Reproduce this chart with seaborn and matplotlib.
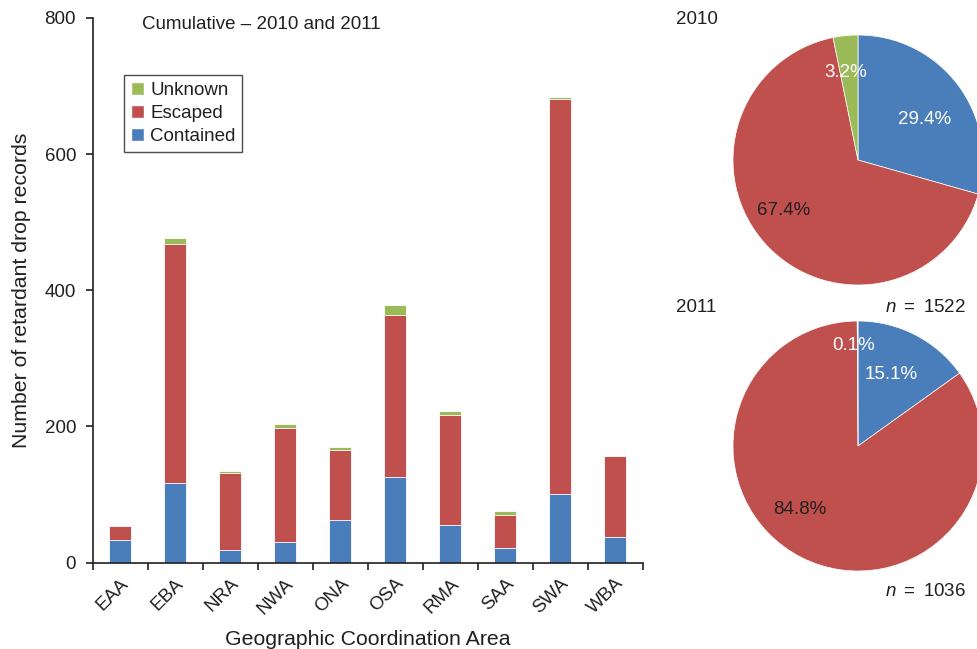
import numpy as np
import pandas as pd
import matplotlib
matplotlib.use("Agg")
import matplotlib.pyplot as plt
import seaborn as sns
from matplotlib.patches import Patch

# ---- data ----
areas = ["EAA", "EBA", "NRA", "NWA", "ONA", "OSA", "RMA", "SAA", "SWA", "WBA"]
contained = [33, 117, 19, 30, 63, 126, 55, 22, 101, 37]
escaped = [21, 351, 113, 168, 102, 238, 162, 48, 580, 119]
unknown = [0, 9, 2, 6, 5, 15, 6, 5, 3, 0]

pie_labels = ["Contained", "Escaped", "Unknown"]
pie_2010 = [29.4, 67.4, 3.2]
pie_2011 = [15.1, 84.8, 0.1]
n_2010 = 1522
n_2011 = 1036

C_BLUE = "#4A7EBB"
C_RED = "#C0504D"
C_GREEN = "#9BBB59"
TXT = "#231F20"

sns.set_style("white")
plt.rcParams["font.family"] = ["Liberation Sans", "DejaVu Sans"]
plt.rcParams["mathtext.fontset"] = "custom"
plt.rcParams["mathtext.it"] = "Liberation Sans:italic"
plt.rcParams["mathtext.rm"] = "Liberation Sans"
plt.rcParams["text.color"] = TXT
plt.rcParams["axes.labelcolor"] = TXT
plt.rcParams["xtick.color"] = TXT
plt.rcParams["ytick.color"] = TXT

FS = 13.5

df = pd.DataFrame({"area": areas, "contained": contained,
                   "escaped": escaped, "unknown": unknown})
df["lvl2"] = df["contained"] + df["escaped"]
df["lvl3"] = df["lvl2"] + df["unknown"]

fig = plt.figure(figsize=(9.78, 6.49), dpi=100)
ax = fig.add_axes([92.7 / 978, 1 - 562.5 / 649, 550 / 978, (562.5 - 18) / 649])

common = dict(x="area", order=areas, width=0.4, ax=ax, edgecolor="white",
              linewidth=0.6, errorbar=None, saturation=1)
sns.barplot(data=df, y="lvl3", color=C_GREEN, **common)
sns.barplot(data=df, y="lvl2", color=C_RED, **common)
sns.barplot(data=df, y="contained", color=C_BLUE, **common)

ax.set_ylim(0, 800)
ax.set_xlim(-0.5, len(areas) - 0.5)
ax.set_yticks([0, 200, 400, 600, 800])
ax.set_xticks(np.arange(len(areas)))
ax.set_xticklabels(areas, rotation=45, ha="right", rotation_mode="anchor")
ax.set_xticks(np.arange(len(areas) + 1) - 0.5, minor=True)
ax.tick_params(axis="x", which="major", length=0, pad=9, labelsize=FS)
ax.tick_params(axis="x", which="minor", length=5, width=1.2, direction="out", bottom=True)
ax.tick_params(axis="y", length=5, width=1.2, direction="out", left=True, labelsize=FS, pad=7)
for s in ["top", "right"]:
    ax.spines[s].set_visible(False)
for s in ["left", "bottom"]:
    ax.spines[s].set_color(TXT)
    ax.spines[s].set_linewidth(1.2)
ax.set_xlabel("Geographic Coordination Area", fontsize=15.3, labelpad=9)
ax.set_ylabel("Number of retardant drop records", fontsize=15.3, labelpad=10)
ax.text(0.09, 1.004, "Cumulative \u2013 2010 and 2011", transform=ax.transAxes,
        fontsize=FS, va="top", ha="left")

handles = [Patch(facecolor=C_GREEN, label="Unknown"),
           Patch(facecolor=C_RED, label="Escaped"),
           Patch(facecolor=C_BLUE, label="Contained")]
leg = ax.legend(handles=handles, loc="upper left", bbox_to_anchor=(0.057, 0.895),
                frameon=True, fancybox=False, fontsize=FS, handlelength=0.7,
                handleheight=0.7, handletextpad=0.35, borderpad=0.35, labelspacing=0.32,
                borderaxespad=0, edgecolor=TXT)
leg.get_frame().set_linewidth(1.0)

# ---- pies ----
R = 125
def pie_axes(cx, cy):
    return fig.add_axes([(cx - R) / 978, 1 - (cy + R) / 649, 2 * R / 978, 2 * R / 649])

def draw_pie(axp, vals, positions, colors_txt):
    wedges, texts, autotexts = axp.pie(vals, colors=[C_BLUE, C_RED, C_GREEN],
                                       startangle=90, counterclock=False,
                                       autopct="%.1f%%", pctdistance=0.7,
                                       wedgeprops=dict(linewidth=0.5, edgecolor="white"))
    for t, pos, c in zip(autotexts, positions, colors_txt):
        t.set_position(pos)
        t.set_color(c)
        t.set_fontsize(FS)
        t.set_ha("center")
        t.set_va("center")
    axp.set_xlim(-1, 1)
    axp.set_ylim(-1, 1)
    axp.set_axis_off()

ax1 = pie_axes(858, 160)
draw_pie(ax1, pie_2010, [(0.536, 0.328), (-0.594, -0.406), (-0.098, 0.70)],
         ["white", TXT, "white"])
ax2 = pie_axes(858, 446)
draw_pie(ax2, pie_2011, [(0.266, 0.568), (-0.468, -0.506), (-0.037, 0.80)],
         ["white", TXT, "white"])

fig.text(676 / 978, 1 - 20 / 649, "2010", fontsize=FS, ha="left", va="center")
fig.text(676 / 978, 1 - 307 / 649, "2011", fontsize=FS, ha="left", va="center")
fig.text(966 / 978, 1 - 307 / 649, f"$n\\ =\\ {n_2010}$", fontsize=FS, ha="right", va="center")
fig.text(966 / 978, 1 - 591 / 649, f"$n\\ =\\ {n_2011}$", fontsize=FS, ha="right", va="center")

fig.savefig("out.png", dpi=100)
